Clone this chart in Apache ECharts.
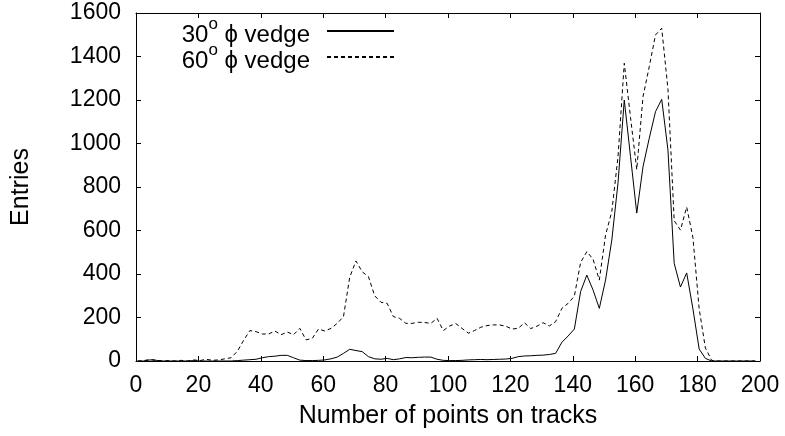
<!DOCTYPE html>
<html>
<head>
<meta charset="utf-8">
<script src="https://cdn.jsdelivr.net/npm/echarts@6/dist/echarts.min.js"></script>
<style>
html,body{margin:0;padding:0;background:#fff;}
#chart{width:785px;height:436px;}
</style>
</head>
<body>
<div id="chart"></div>
<script>
// bin centres (points on tracks)
var xs = [];
for (var k = 0; k < 100; k++) { xs.push(0.5 + 2 * k); }

var seriesNames = ['30° ϕ vedge', '60° ϕ vedge'];

var vedge30 = [
  0, 0, 5, 3, 0, 0, 0, 0, 0, 2,
  0, 0, 0, 0, 0, 0, 2, 4, 6, 8,
  15, 20, 22, 26, 26, 15, 4, 2, 2, 3,
  5, 10, 18, 35, 54, 48, 43, 20, 10, 8,
  12, 6, 10, 16, 15, 17, 18, 18, 8, 3,
  2, 2, 3, 5, 6, 7, 6, 7, 8, 9,
  12, 20, 23, 24, 26, 27, 30, 35, 86, 115,
  147, 319, 395, 326, 242, 372, 556, 820, 1200, 940,
  680, 893, 1024, 1146, 1203, 970, 449, 340, 405, 240,
  55, 12, 0, 0, 0, 0, 0, 0, 0, 0
];

var vedge60 = [
  0, 2, 7, 4, 0, 2, 0, 3, 0, 5,
  2, 8, 3, 5, 10, 15, 45, 95, 140, 135,
  124, 124, 138, 121, 133, 121, 150, 97, 104, 147,
  138, 150, 173, 204, 385, 460, 410, 388, 300, 270,
  265, 204, 196, 173, 173, 178, 177, 173, 196, 140,
  161, 172, 150, 128, 140, 155, 163, 166, 166, 160,
  147, 150, 176, 149, 160, 176, 161, 181, 242, 265,
  298, 453, 503, 468, 372, 579, 687, 940, 1369, 1120,
  880, 1215, 1353, 1499, 1530, 1250, 645, 602, 708, 568,
  240, 60, 3, 0, 0, 0, 0, 0, 0, 0
];

var xTicks = [0, 20, 40, 60, 80, 100, 120, 140, 160, 180, 200];
var yTicks = [0, 200, 400, 600, 800, 1000, 1200, 1400, 1600];

function pairs(vals) {
  return xs.map(function (x, i) { return [x, vals[i]]; });
}

var FONT = 'Liberation Sans, Arial, Helvetica, sans-serif';
var FS = 23;
var TFS = 25;
var chart = echarts.init(document.getElementById('chart'), null, {renderer: 'canvas'});

function tick() { return {show: true, inside: true, length: 5, lineStyle: {color: '#000', width: 1}}; }
function aline() { return {show: true, onZero: false, lineStyle: {color: '#000', width: 1}}; }
function plain(v) { return String(v); }

chart.setOption({
  animation: false,
  backgroundColor: '#fff',
  textStyle: {fontFamily: FONT},
  grid: {left: 136, right: 25, top: 13, bottom: 75, containLabel: false},
  legend: {
    data: seriesNames,
    orient: 'vertical',
    align: 'right',
    right: 390,
    top: 16,
    padding: 0,
    itemWidth: 67,
    itemHeight: 20,
    itemGap: -5,
    itemStyle: {opacity: 0, borderWidth: 0},
    textStyle: {
      fontFamily: FONT, fontSize: 24, color: '#000', padding: [1, 12, 0, 0],
      rich: {
        t: {fontFamily: FONT, fontSize: 24, color: '#000', verticalAlign: 'bottom'},
        s: {fontFamily: FONT, fontSize: 17, color: '#000', verticalAlign: 'bottom', padding: [0, 0, 14, 0]}
      }
    },
    formatter: function (name) {
      var deg = name.split('°')[0];
      var rest = name.split('°')[1];
      return '{t|' + deg + '}{s|o}{t|' + rest + '}';
    }
  },
  xAxis: [{
    type: 'value', min: xTicks[0], max: xTicks[xTicks.length - 1], interval: xTicks[1] - xTicks[0],
    position: 'bottom',
    name: 'Number of points on tracks', nameLocation: 'middle', nameGap: 43,
    nameTextStyle: {fontFamily: FONT, fontSize: TFS, color: '#000'},
    axisLine: aline(), axisTick: tick(),
    axisLabel: {color: '#000', fontFamily: FONT, fontSize: FS, margin: 13, formatter: plain},
    splitLine: {show: false}
  }, {
    type: 'value', min: xTicks[0], max: xTicks[xTicks.length - 1], interval: xTicks[1] - xTicks[0],
    position: 'top',
    axisLine: aline(), axisTick: tick(),
    axisLabel: {show: false}, splitLine: {show: false}
  }],
  yAxis: [{
    type: 'value', min: yTicks[0], max: yTicks[yTicks.length - 1], interval: yTicks[1] - yTicks[0],
    position: 'left',
    name: 'Entries', nameLocation: 'middle', nameGap: 102, nameRotate: 90,
    nameTextStyle: {fontFamily: FONT, fontSize: TFS, color: '#000'},
    axisLine: aline(), axisTick: tick(),
    axisLabel: {color: '#000', fontFamily: FONT, fontSize: FS, margin: 15, formatter: plain},
    splitLine: {show: false}
  }, {
    type: 'value', min: yTicks[0], max: yTicks[yTicks.length - 1], interval: yTicks[1] - yTicks[0],
    position: 'right',
    axisLine: aline(), axisTick: tick(),
    axisLabel: {show: false}, splitLine: {show: false}
  }],
  series: [{
    name: seriesNames[0], type: 'line', xAxisIndex: 0, yAxisIndex: 0,
    data: pairs(vedge30), showSymbol: false, symbol: 'none',
    lineStyle: {color: '#000', width: 1, type: 'solid'},
    itemStyle: {color: '#000'}
  }, {
    name: seriesNames[1], type: 'line', xAxisIndex: 0, yAxisIndex: 0,
    data: pairs(vedge60), showSymbol: false, symbol: 'none',
    lineStyle: {color: '#000', width: 1, type: [4, 3]},
    itemStyle: {color: '#000'}
  }]
});
</script>
</body>
</html>
